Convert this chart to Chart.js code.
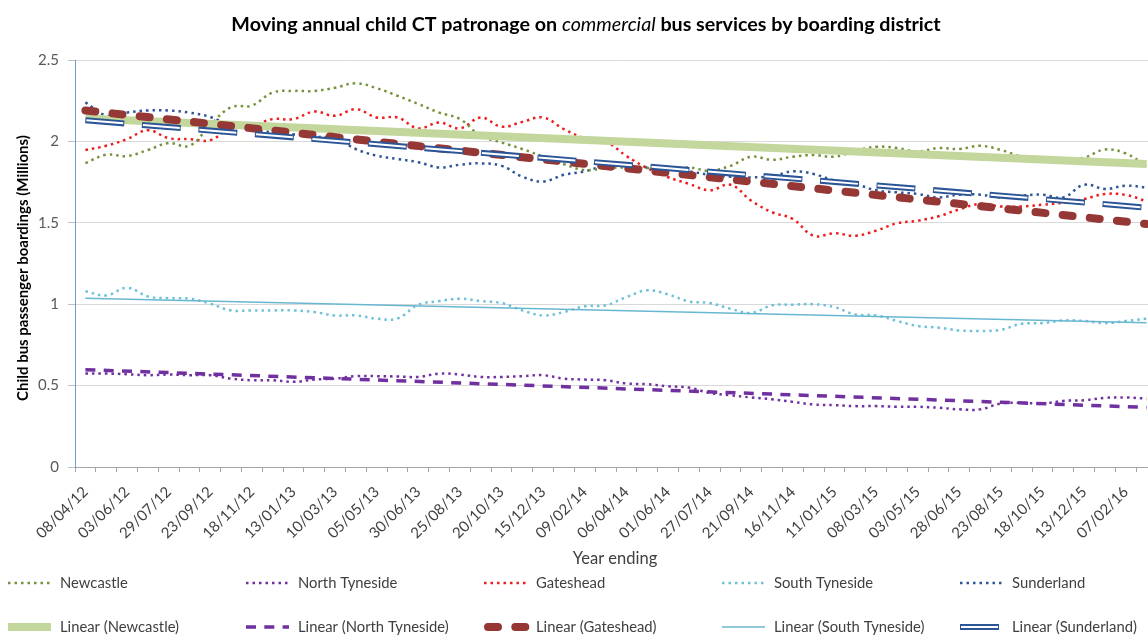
<!DOCTYPE html>
<html>
<head>
<meta charset="utf-8">
<script src="https://cdn.jsdelivr.net/npm/chart.js@4.4.1/dist/chart.umd.min.js"></script>
<style>
  html, body { margin: 0; padding: 0; background: #fff; overflow: hidden; }
  #wrap { position: relative; width: 1172px; height: 635px; }
</style>
</head>
<body>
<div id="wrap"><canvas id="patronageChart" width="1172" height="635"></canvas></div>
<script>
// four-weekly periods, year ending
const categories = [
  '08/04/12', '06/05/12', '03/06/12', '01/07/12', '29/07/12', '26/08/12', '23/09/12', '21/10/12',
  '18/11/12', '16/12/12', '13/01/13', '10/02/13', '10/03/13', '07/04/13', '05/05/13', '02/06/13',
  '30/06/13', '28/07/13', '25/08/13', '22/09/13', '20/10/13', '17/11/13', '15/12/13', '12/01/14',
  '09/02/14', '09/03/14', '06/04/14', '04/05/14', '01/06/14', '29/06/14', '27/07/14', '24/08/14',
  '21/09/14', '19/10/14', '16/11/14', '14/12/14', '11/01/15', '08/02/15', '08/03/15', '05/04/15',
  '03/05/15', '31/05/15', '28/06/15', '26/07/15', '23/08/15', '20/09/15', '18/10/15', '15/11/15',
  '13/12/15', '10/01/16', '07/02/16', '06/03/16'
];

// moving annual boardings, millions
const newcastle = [
  1.867, 1.918, 1.91, 1.947, 1.99, 1.973, 2.10, 2.21, 2.22, 2.30, 2.31, 2.31, 2.33, 2.357, 2.327, 2.28,
  2.23, 2.177, 2.137, 2.034, 1.993, 1.953, 1.906, 1.86, 1.824, 1.836, 1.84, 1.836, 1.83, 1.84, 1.82, 1.85,
  1.906, 1.887, 1.906, 1.916, 1.906, 1.942, 1.967, 1.959, 1.938, 1.959, 1.953, 1.973, 1.947, 1.906, 1.89, 1.885,
  1.90, 1.95, 1.926, 1.85
];
const northTyneside = [
  0.574, 0.574, 0.57, 0.564, 0.568, 0.564, 0.564, 0.543, 0.533, 0.533, 0.523, 0.537, 0.543, 0.558, 0.558, 0.556,
  0.553, 0.574, 0.568, 0.553, 0.553, 0.558, 0.564, 0.543, 0.537, 0.533, 0.513, 0.509, 0.496, 0.488, 0.455, 0.441,
  0.427, 0.416, 0.40, 0.384, 0.38, 0.374, 0.374, 0.37, 0.37, 0.364, 0.354, 0.354, 0.39, 0.394, 0.39, 0.406,
  0.41, 0.425, 0.427, 0.42
];
const gateshead = [
  1.947, 1.973, 2.014, 2.069, 2.02, 2.014, 2.008, 2.085, 2.096, 2.137, 2.137, 2.183, 2.157, 2.198, 2.147, 2.147,
  2.08, 2.116, 2.08, 2.147, 2.09, 2.12, 2.147, 2.075, 2.02, 2.0, 1.91, 1.836, 1.78, 1.74, 1.70, 1.734,
  1.636, 1.565, 1.523, 1.42, 1.436, 1.42, 1.452, 1.497, 1.513, 1.54, 1.583, 1.616, 1.60, 1.60, 1.611, 1.624,
  1.646, 1.677, 1.671, 1.632
];
const southTyneside = [
  1.08, 1.054, 1.101, 1.048, 1.037, 1.034, 1.003, 0.962, 0.962, 0.962, 0.962, 0.952, 0.931, 0.931, 0.911, 0.913,
  0.997, 1.019, 1.034, 1.019, 1.007, 0.962, 0.931, 0.952, 0.987, 0.993, 1.044, 1.085, 1.06, 1.017, 1.007, 0.972,
  0.946, 0.993, 0.997, 1.0, 0.982, 0.937, 0.931, 0.897, 0.866, 0.856, 0.839, 0.835, 0.843, 0.88, 0.884, 0.90,
  0.897, 0.884, 0.897, 0.911
];
const sunderland = [
  2.24, 2.16, 2.177, 2.19, 2.19, 2.177, 2.15, 2.096, 2.075, 2.055, 2.043, 2.028, 2.02, 1.953, 1.912, 1.892,
  1.872, 1.84, 1.857, 1.865, 1.85, 1.783, 1.754, 1.795, 1.816, 1.85, 1.85, 1.84, 1.83, 1.816, 1.795, 1.783,
  1.779, 1.786, 1.816, 1.80, 1.759, 1.738, 1.70, 1.687, 1.677, 1.656, 1.673, 1.673, 1.656, 1.667, 1.673, 1.656,
  1.734, 1.708, 1.728, 1.717
];

// linear trend end points [first period, last period]
const trendNewcastle = [2.14, 1.861];
const trendNorthTyneside = [0.598, 0.366];
const trendGateshead = [2.19, 1.493];
const trendSouthTyneside = [1.036, 0.886];
const trendSunderland = [2.13, 1.593];

const yTicks = [0, 0.5, 1, 1.5, 2, 2.5];

const FONT = 'Lato, "Open Sans", sans-serif';

function trendLine(ends) {
  const arr = categories.map(() => null);
  arr[0] = ends[0];
  arr[arr.length - 1] = ends[1];
  return arr;
}

function dotted(label, data, color) {
  return {
    label: label,
    data: data,
    borderColor: color,
    borderWidth: 2.5,
    borderDash: [2.5, 4],
    pointRadius: 0,
    tension: 0.4,
    fill: false,
    order: 10
  };
}

function trend(label, ends, color, width, dash, cap, order) {
  return {
    label: label,
    data: trendLine(ends),
    borderColor: color,
    borderWidth: width,
    borderDash: dash,
    borderCapStyle: cap,
    pointRadius: 0,
    spanGaps: true,
    tension: 0,
    fill: false,
    order: order
  };
}

const datasets = [
  dotted('Newcastle', newcastle, '#76923c'),
  dotted('North Tyneside', northTyneside, '#7030a0'),
  dotted('Gateshead', gateshead, '#ee1c1c'),
  dotted('South Tyneside', southTyneside, '#6fc1d9'),
  dotted('Sunderland', sunderland, '#2f5597'),
  trend('Linear (Newcastle)', trendNewcastle, '#c3d69b', 8, [], 'butt', 6),
  trend('Linear (North Tyneside)', trendNorthTyneside, '#7030a0', 3.5, [10, 8.3], 'butt', 5),
  trend('Linear (Gateshead)', trendGateshead, '#953735', 8, [10, 17.3], 'round', 4),
  trend('Linear (South Tyneside)', trendSouthTyneside, '#68b7d0', 1.5, [], 'butt', 3),
  trend('Linear (Sunderland)', trendSunderland, '#2c5597', 6, [39, 17.7], 'butt', 2),
  // white core of the double Sunderland trend line
  trend('', trendSunderland, '#ffffff', 2, [37, 19.7], 'butt', 1)
];
datasets[10].borderDashOffset = -1;

// legend grid: row 1 the series, row 2 their trend lines
const legendCols = [8, 246, 484, 722, 960];
const legendRows = [583, 627];
const legendItems = [
  [0, 0, 0], [1, 1, 0], [2, 2, 0], [3, 3, 0], [4, 4, 0],
  [5, 0, 1], [6, 1, 1], [7, 2, 1], [8, 3, 1], [9, 4, 1]
];

const extras = {
  id: 'extras',
  afterDraw(chart) {
    const ctx = chart.ctx;
    ctx.save();
    // title with the italic word
    const parts = [
      ['Moving annual child CT patronage on ', 'bold'],
      ['commercial', 'italic'],
      [' bus services by boarding district', 'bold']
    ];
    let total = 0;
    parts.forEach(p => {
      ctx.font = p[1] + ' 19.7px ' + FONT;
      total += ctx.measureText(p[0]).width;
    });
    let x = 586 - total / 2;
    ctx.fillStyle = '#000';
    ctx.textBaseline = 'alphabetic';
    ctx.textAlign = 'left';
    parts.forEach(p => {
      ctx.font = p[1] + ' 19.7px ' + FONT;
      ctx.fillText(p[0], x, 31);
      x += ctx.measureText(p[0]).width;
    });

    // axis titles
    ctx.textBaseline = 'middle';
    ctx.textAlign = 'center';
    ctx.font = '16.5px ' + FONT;
    ctx.fillStyle = '#404040';
    ctx.fillText('Year ending', 615, 559);
    ctx.save();
    ctx.translate(23, 268);
    ctx.rotate(-Math.PI / 2);
    ctx.font = 'bold 15px ' + FONT;
    ctx.fillStyle = '#000';
    ctx.fillText('Child bus passenger boardings (Millions)', 0, 0);
    ctx.restore();

    ctx.textAlign = 'left';
    legendItems.forEach(([di, col, row]) => {
      const ds = chart.data.datasets[di];
      const x0 = legendCols[col];
      const y0 = legendRows[row];
      const seg = (color, width, dash, cap, offset) => {
        ctx.beginPath();
        ctx.strokeStyle = color;
        ctx.lineWidth = width;
        ctx.setLineDash(dash || []);
        ctx.lineDashOffset = offset || 0;
        ctx.lineCap = cap || 'butt';
        ctx.moveTo(x0 + (cap === 'round' ? width / 2 : 0), y0);
        ctx.lineTo(x0 + 43, y0);
        ctx.stroke();
      };
      seg(ds.borderColor, ds.borderWidth, ds.borderDash, ds.borderCapStyle, 0);
      if (di === 9) {
        const core = chart.data.datasets[10];
        seg(core.borderColor, core.borderWidth, core.borderDash, 'butt', -1);
      }
      ctx.setLineDash([]);
      ctx.font = '14.8px ' + FONT;
      ctx.fillStyle = '#404040';
      ctx.fillText(ds.label, x0 + 52, y0);
    });
    ctx.restore();
  }
};

new Chart(document.getElementById('patronageChart'), {
  type: 'line',
  data: { labels: categories, datasets: datasets },
  plugins: [extras],
  options: {
    responsive: false,
    animation: false,
    layout: { padding: { top: 60, right: 15, bottom: 70, left: 0 } },
    plugins: {
      legend: { display: false },
      tooltip: { enabled: false },
      title: { display: false }
    },
    scales: {
      x: {
        offset: true,
        grid: { offset: true, drawOnChartArea: false, drawTicks: true, tickLength: 5, color: '#a6a6a6' },
        border: { color: '#a6a6a6' },
        ticks: {
          autoSkip: false,
          maxRotation: 45,
          minRotation: 45,
          color: '#404040',
          font: { family: FONT, size: 15 },
          padding: 11,
          callback: (v, i) => (i % 2 === 0 ? categories[i] : '')
        },
        afterFit: s => {
          s.height = 98;
          s.paddingLeft = 0;
          s.paddingRight = 0;
        }
      },
      y: {
        min: 0,
        max: 2.5,
        afterBuildTicks: s => { s.ticks = yTicks.map(v => ({ value: v })); },
        grid: { color: '#d9d9d9', tickLength: 7, tickColor: '#bfbfbf' },
        border: { color: '#6f9bd1' },
        ticks: {
          color: '#595959',
          font: { family: FONT, size: 15 },
          padding: 9,
          callback: v => String(v)
        },
        afterFit: s => { s.width = 75; }
      }
    }
  }
});
</script>
</body>
</html>
